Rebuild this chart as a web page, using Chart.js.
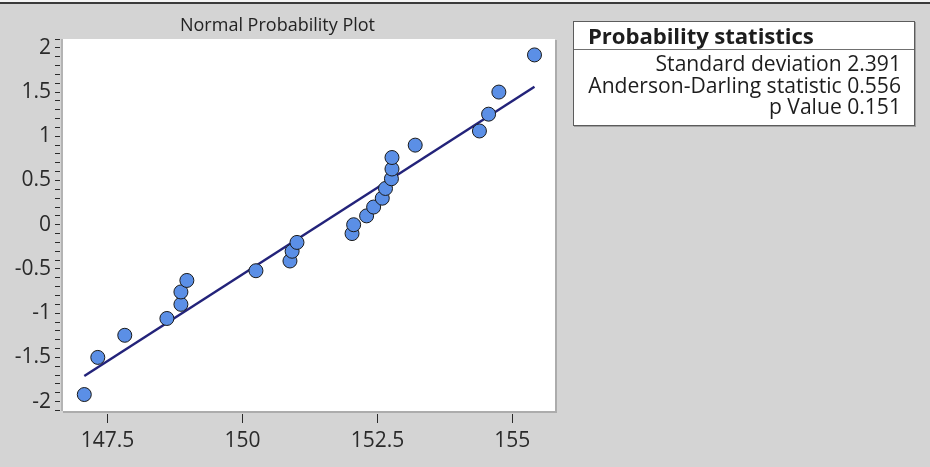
<!DOCTYPE html>
<html>
<head>
<meta charset="utf-8">
<title>Normal Probability Plot</title>
<script src="https://cdn.jsdelivr.net/npm/chart.js@4/dist/chart.umd.min.js"></script>
<style>
  html, body { margin: 0; padding: 0; }
  body {
    width: 930px; height: 467px; position: relative; overflow: hidden;
    background: #d4d4d4; font-family: "Open Sans", "DejaVu Sans", sans-serif;
  }
  #frame { position: absolute; left: 0; top: 0; width: 930px; height: 2px;
           background: #f4f4f4; border-bottom: 2px solid #3a3a3a; }
  #plot { position: absolute; left: 0; top: 0; }
  #stats {
    position: absolute; left: 573px; top: 21px; width: 340px; height: 103px;
    background: #ffffff; border: 1px solid #5c5c5c; box-shadow: 1px 1px 0 #a0a0a0;
    color: #1d1d1d;
  }
  #stats .head {
    height: 27px; line-height: 28px; padding-left: 14px;
    border-bottom: 1px solid #707070; font-weight: 700; font-size: 22.2px;
    letter-spacing: -0.1px; white-space: nowrap;
  }
  #stats .rows { padding-top: 2px; }
  #stats .row { text-align: right; padding-right: 13px; font-size: 21.1px; line-height: 21.5px; white-space: nowrap; }
</style>
</head>
<body>
<div id="frame"></div>
<canvas id="plot" width="930" height="467"></canvas>
<div id="stats">
  <div class="head">Probability statistics</div>
  <div class="rows" id="statRows"></div>
</div>
<script>
// Ordered sample values and their normal scores
const sampleValues = [147.07, 147.32, 147.82, 148.60, 148.86, 148.86, 148.97, 150.25, 150.88, 150.92,
                      151.01, 152.03, 152.06, 152.30, 152.43, 152.59, 152.65, 152.76, 152.77, 152.77,
                      153.20, 154.39, 154.56, 154.75, 155.41];
const normalScores = [-1.92, -1.50, -1.25, -1.06, -0.90, -0.76, -0.63, -0.52, -0.41, -0.30,
                      -0.20, -0.10, 0.00, 0.10, 0.20, 0.30, 0.41, 0.52, 0.63, 0.76,
                      0.90, 1.06, 1.25, 1.50, 1.92];

// Fitted normal line, drawn across the sample range
const fitLineX = [147.07, 155.41];
const fitLineScore = [-1.71, 1.56];

// Axis ticks
const xTickValues = [147.5, 150, 152.5, 155];
const yTickLabels = ['-2', '-1.5', '-1', '-0.5', '0', '0.5', '1', '1.5', '2'];
const yMinorStep = 0.1;

// Summary statistics
const statNames = ['Standard deviation', 'Anderson-Darling statistic', 'p Value'];
const statValues = ['2.391', '0.556', '0.151'];

const rowsEl = document.getElementById('statRows');
statNames.forEach((name, i) => {
  const row = document.createElement('div');
  row.className = 'row';
  row.textContent = name + ' ' + statValues[i];
  rowsEl.appendChild(row);
});

const majorY = yTickLabels.map(Number);
const yTickPositions = [];
for (let k = Math.round(-2.1 / yMinorStep); k <= Math.round(2.1 / yMinorStep); k++) {
  yTickPositions.push(Math.round(k * yMinorStep * 10) / 10);
}

// White plotting panel with a soft grey edge
const panel = {
  id: 'panel',
  beforeDatasetsDraw(chart) {
    const { ctx, chartArea: a } = chart;
    ctx.save();
    ctx.fillStyle = '#b4b4b4';
    ctx.fillRect(a.left + 1, a.top, 2, a.bottom - a.top - 3);
    ctx.fillStyle = '#acacac';
    ctx.fillRect(a.left + 3, a.bottom - 3, a.right - a.left - 1, 2);
    ctx.fillRect(a.right, a.top + 1, 2, a.bottom - a.top - 2);
    ctx.fillStyle = '#ffffff';
    ctx.fillRect(a.left + 3, a.top, a.right - a.left - 3, a.bottom - a.top - 3);
    ctx.restore();
  }
};

const tickFont = { family: '"Open Sans", sans-serif', size: 21 };

new Chart(document.getElementById('plot'), {
  type: 'scatter',
  data: {
    datasets: [
      {
        label: 'Observations',
        data: sampleValues.map((v, i) => ({ x: v, y: normalScores[i] })),
        pointRadius: 7,
        pointHoverRadius: 7,
        pointBorderWidth: 1,
        pointBorderColor: '#1b1b1b',
        pointBackgroundColor: '#5b8fe6'
      },
      {
        label: 'Fit',
        data: fitLineX.map((v, i) => ({ x: v, y: fitLineScore[i] })),
        showLine: true,
        pointRadius: 0,
        borderColor: '#23237a',
        borderWidth: 2.5
      }
    ]
  },
  options: {
    responsive: false,
    animation: false,
    devicePixelRatio: 1,
    layout: { padding: { left: 0, right: 375, top: 0, bottom: 0 } },
    plugins: {
      legend: { display: false },
      tooltip: { enabled: false },
      title: {
        display: true,
        text: 'Normal Probability Plot',
        color: '#232323',
        font: { family: '"Open Sans", sans-serif', size: 18, weight: 'normal', lineHeight: 1.1 },
        padding: { top: 16, bottom: 3.2 }
      }
    },
    scales: {
      x: {
        type: 'linear',
        min: 146.62,
        max: 155.79,
        afterBuildTicks(scale) { scale.ticks = xTickValues.map(v => ({ value: v })); },
        afterFit(scale) { scale.height = 53; },
        grid: { drawOnChartArea: false, drawTicks: true, tickLength: 9, color: '#2a2a2a' },
        border: { display: false },
        ticks: { font: tickFont, color: '#2a2a2a', padding: 5, autoSkip: false, maxRotation: 0,
                 callback: v => String(v) }
      },
      y: {
        type: 'linear',
        min: -2.14,
        max: 2.1,
        afterBuildTicks(scale) { scale.ticks = yTickPositions.map(v => ({ value: v })); },
        afterFit(scale) { scale.width = 60; },
        grid: { drawOnChartArea: false, drawTicks: true, tickLength: 5, color: '#2a2a2a' },
        border: { display: false },
        ticks: {
          font: tickFont, color: '#2a2a2a', padding: 4, autoSkip: false,
          callback: v => {
            const idx = majorY.findIndex(m => Math.abs(m - v) < 1e-6);
            return idx >= 0 ? yTickLabels[idx] : '';
          }
        }
      }
    }
  },
  plugins: [panel]
});
</script>
</body>
</html>
